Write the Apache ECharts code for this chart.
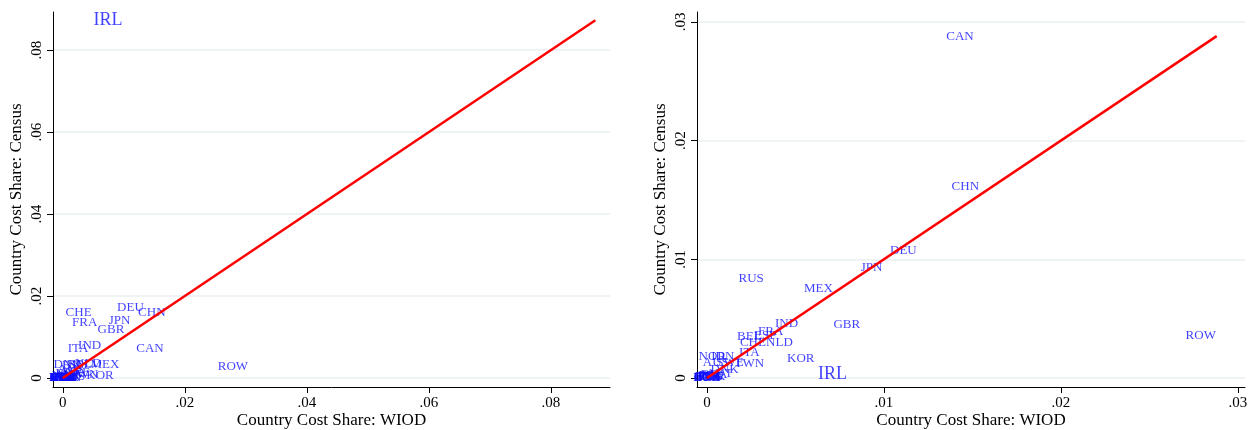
<!DOCTYPE html>
<html><head><meta charset="utf-8">
<script src="https://cdn.jsdelivr.net/npm/echarts@6/dist/echarts.min.js"></script>
<style>html,body{margin:0;padding:0;background:#fff}#c{width:1251px;height:430px}</style>
</head><body><div id="c"></div>
<script>
// Left panel
const leftNames = ["IRL","CHE","DEU","CHN","FRA","JPN","GBR","IND","ITA","CAN","ROW","MEX","KOR","NLD","BEL","DNK","ESP","AUS","TWN","SWE","BRA","RUS","NOR","AUT","POL","FIN","IDN","TUR","CZE","HUN","PRT","GRC","ROU","SVK","LUX","BGR","HRV","SVN","LTU","EST","LVA","CYP","MLT"];
const leftWIOD   = [0.0074,0.0026,0.0111,0.0146,0.0036,0.0093,0.0079,0.0044,0.0025,0.0143,0.0279,0.0069,0.0061,0.0042,0.0027,0.0008,0.0017,0.0013,0.0034,0.0022,0.0010,0.0016,0.0004,0.0008,0.0003,0.0002,0.0011,0.0005,0.0002,0.0001,0.0001,0.0000,0.0000,0.0001,0.0001,0.0000,0.0000,0.0000,0.0000,0.0000,0.0000,0.0000,0.0000];
const leftCensus = [0.0873,0.0159,0.0173,0.0159,0.0134,0.0139,0.0117,0.0078,0.0071,0.0071,0.0029,0.0032,0.0005,0.0034,0.0033,0.0033,0.0031,0.0020,0.0008,0.0013,0.0010,0.0003,0.0005,0.0008,0.0002,0.0001,0.0002,0.0001,0.0003,0.0002,0.0001,0.0000,0.0001,0.0001,0.0002,0.0000,0.0000,0.0001,0.0000,0.0000,0.0000,0.0000,0.0000];
// Right panel
const rightNames = ["CAN","CHN","DEU","JPN","GBR","ROW","RUS","MEX","IND","FRA","BEL","ESP","CHE","NLD","ITA","KOR","TWN","IRL","NOR","IDN","AUS","SWE","DNK","AUT","BRA","POL","FIN","TUR","CZE","HUN","PRT","GRC","ROU","SVK","LUX","BGR"];
const rightWIOD   = [0.0143,0.0146,0.0111,0.0093,0.0079,0.0279,0.0025,0.0063,0.0045,0.0036,0.0024,0.0033,0.0026,0.0041,0.0024,0.0053,0.0024,0.0071,0.0003,0.0009,0.0005,0.0013,0.0010,0.0007,0.0004,0.0002,0.0001,0.0003,0.0002,0.0001,0.0001,0.0000,0.0000,0.0001,0.0000,0.0000];
const rightCensus = [0.0288,0.0161,0.0107,0.0093,0.0045,0.0036,0.0084,0.0075,0.0046,0.0039,0.0035,0.0036,0.0030,0.0030,0.0021,0.0016,0.0012,0.0003,0.0018,0.0018,0.0013,0.0013,0.0007,0.0004,0.0003,0.0002,0.0001,0.0001,0.0002,0.0001,0.0001,0.0000,0.0000,0.0001,0.0000,0.0000];
const leftTicks = [0, 0.02, 0.04, 0.06, 0.08];
const rightTicks = [0, 0.01, 0.02, 0.03];
const xTitle = "Country Cost Share: WIOD";
const yTitle = "Country Cost Share: Census";

const FONT = "Liberation Serif";
const BLUE = "#1010ff";
function fmt(v){ if (Math.abs(v) < 1e-9) return "0"; return v.toFixed(2).replace(/^0\./, "."); }
function pts(names, xs, ys){
  return names.map((n,i)=>({name:n, value:[xs[i], ys[i]],
    label: n === "IRL" ? {fontSize:18} : undefined}));
}
function diag(ys){ const m = Math.max(...ys); return [[0,0],[m,m]]; }
function xAx(grid, min, max, ticks){
  return {type:'value', gridIndex:grid, min:min, max:max,
    name:xTitle, nameLocation:'middle', nameGap:25, nameMoveOverlap:false,
    nameTextStyle:{fontFamily:FONT, fontSize:17, color:'#000'},
    axisLine:{show:true, onZero:false, lineStyle:{color:'#000', width:1}},
    axisTick:{show:true, length:6, lineStyle:{color:'#000'}, customValues:ticks},
    axisLabel:{fontFamily:FONT, fontSize:15, color:'#000', margin:9, formatter:fmt, customValues:ticks},
    splitLine:{show:false}};
}
function yAx(grid, min, max, ticks){
  return {type:'value', gridIndex:grid, min:min, max:max,
    name:yTitle, nameLocation:'middle', nameGap:28, nameRotate:90, nameMoveOverlap:false,
    nameTextStyle:{fontFamily:FONT, fontSize:17, color:'#000'},
    axisLine:{show:true, onZero:false, lineStyle:{color:'#000', width:1}},
    axisTick:{show:true, length:6, lineStyle:{color:'#000'}, customValues:ticks},
    axisLabel:{fontFamily:FONT, fontSize:15, color:'#000', margin:8, rotate:90, formatter:fmt, customValues:ticks},
    splitLine:{show:true, lineStyle:{color:'#e8f0f2', width:1.5}}};
}
const chart = echarts.init(document.getElementById('c'), null, {renderer:'canvas'});
const lblStyle = {show:true, position:'inside', formatter:'{b}', fontFamily:FONT, fontSize:13, color:BLUE};
chart.setOption({
  animation:false,
  backgroundColor:'#fff',
  grid:[
    {left:53, top:12, width:557, height:375, containLabel:false, outerBoundsMode:'none'},
    {left:697, top:12, width:548, height:375, containLabel:false, outerBoundsMode:'none'}
  ],
  xAxis:[ xAx(0, -0.0016, 0.0897, leftTicks), xAx(1, -0.00056, 0.0304, rightTicks) ],
  yAxis:[ yAx(0, -0.0022, 0.0893, leftTicks), yAx(1, -0.00076, 0.03083, rightTicks) ],
  series:[
    {type:'scatter', xAxisIndex:0, yAxisIndex:0, symbolSize:1, itemStyle:{color:'rgba(0,0,0,0)'},
      label:lblStyle, data:pts(leftNames, leftWIOD, leftCensus), z:2},
    {type:'scatter', xAxisIndex:1, yAxisIndex:1, symbolSize:1, itemStyle:{color:'rgba(0,0,0,0)'},
      label:lblStyle, data:pts(rightNames, rightWIOD, rightCensus), z:2},
    {type:'line', xAxisIndex:0, yAxisIndex:0, symbol:'none', data:diag(leftCensus),
      lineStyle:{color:'#ff0000', width:2.5}, z:5},
    {type:'line', xAxisIndex:1, yAxisIndex:1, symbol:'none', data:diag(rightCensus),
      lineStyle:{color:'#ff0000', width:2.5}, z:5}
  ]
});
</script></body></html>
